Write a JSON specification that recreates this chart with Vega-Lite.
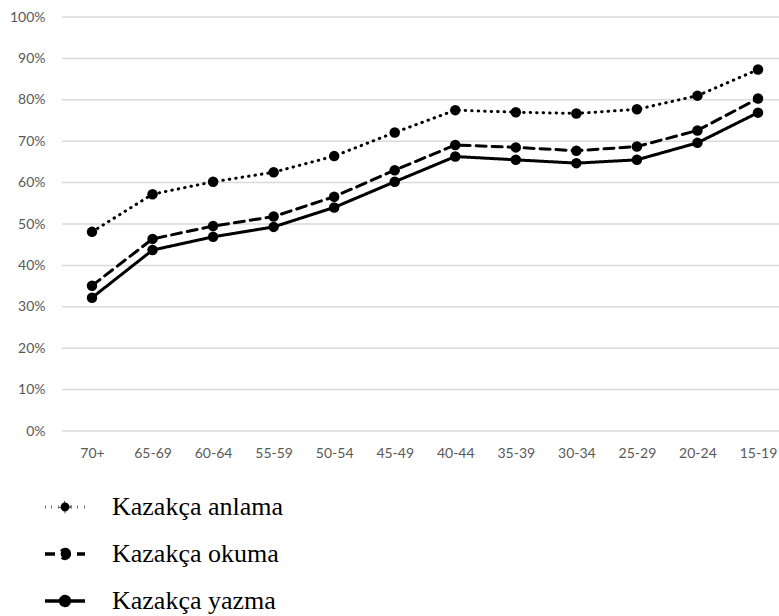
{
  "$schema": "https://vega.github.io/schema/vega-lite/v6.json",
  "width": 717,
  "height": 414,
  "autosize": {"type": "none"},
  "padding": {"left": 62, "top": 17, "right": 0, "bottom": 185},
  "background": "white",
  "config": {
    "view": {"stroke": null},
    "axis": {
      "labelFont": "Lato",
      "labelFontSize": 14,
      "labelColor": "#595959",
      "domain": false,
      "ticks": false,
      "tickSize": 0,
      "grid": false,
      "title": null
    }
  },
  "datasets": {
    "shares": [
      {"age": "70+", "series": "Kazakça anlama", "pct": 48.1},
      {"age": "65-69", "series": "Kazakça anlama", "pct": 57.2},
      {"age": "60-64", "series": "Kazakça anlama", "pct": 60.2},
      {"age": "55-59", "series": "Kazakça anlama", "pct": 62.5},
      {"age": "50-54", "series": "Kazakça anlama", "pct": 66.4},
      {"age": "45-49", "series": "Kazakça anlama", "pct": 72.1},
      {"age": "40-44", "series": "Kazakça anlama", "pct": 77.5},
      {"age": "35-39", "series": "Kazakça anlama", "pct": 77.0},
      {"age": "30-34", "series": "Kazakça anlama", "pct": 76.7},
      {"age": "25-29", "series": "Kazakça anlama", "pct": 77.7},
      {"age": "20-24", "series": "Kazakça anlama", "pct": 81.0},
      {"age": "15-19", "series": "Kazakça anlama", "pct": 87.3},
      {"age": "70+", "series": "Kazakça okuma", "pct": 35.1},
      {"age": "65-69", "series": "Kazakça okuma", "pct": 46.4},
      {"age": "60-64", "series": "Kazakça okuma", "pct": 49.5},
      {"age": "55-59", "series": "Kazakça okuma", "pct": 51.8},
      {"age": "50-54", "series": "Kazakça okuma", "pct": 56.6},
      {"age": "45-49", "series": "Kazakça okuma", "pct": 63.0},
      {"age": "40-44", "series": "Kazakça okuma", "pct": 69.1},
      {"age": "35-39", "series": "Kazakça okuma", "pct": 68.5},
      {"age": "30-34", "series": "Kazakça okuma", "pct": 67.7},
      {"age": "25-29", "series": "Kazakça okuma", "pct": 68.7},
      {"age": "20-24", "series": "Kazakça okuma", "pct": 72.6},
      {"age": "15-19", "series": "Kazakça okuma", "pct": 80.3},
      {"age": "70+", "series": "Kazakça yazma", "pct": 32.2},
      {"age": "65-69", "series": "Kazakça yazma", "pct": 43.7},
      {"age": "60-64", "series": "Kazakça yazma", "pct": 46.9},
      {"age": "55-59", "series": "Kazakça yazma", "pct": 49.3},
      {"age": "50-54", "series": "Kazakça yazma", "pct": 54.0},
      {"age": "45-49", "series": "Kazakça yazma", "pct": 60.2},
      {"age": "40-44", "series": "Kazakça yazma", "pct": 66.3},
      {"age": "35-39", "series": "Kazakça yazma", "pct": 65.5},
      {"age": "30-34", "series": "Kazakça yazma", "pct": 64.7},
      {"age": "25-29", "series": "Kazakça yazma", "pct": 65.5},
      {"age": "20-24", "series": "Kazakça yazma", "pct": 69.6},
      {"age": "15-19", "series": "Kazakça yazma", "pct": 76.9}
    ],
    "gridlines": [
      {"pct": 0}, {"pct": 10}, {"pct": 20}, {"pct": 30}, {"pct": 40}, {"pct": 50},
      {"pct": 60}, {"pct": 70}, {"pct": 80}, {"pct": 90}, {"pct": 100}
    ]
  },
  "layer": [
    {
      "data": {"name": "gridlines"},
      "mark": {"type": "rule", "color": "#d9d9d9", "strokeWidth": 1.5},
      "encoding": {
        "y": {
          "field": "pct",
          "type": "quantitative",
          "scale": {"domain": [0, 100], "nice": false},
          "axis": {
            "values": [0, 10, 20, 30, 40, 50, 60, 70, 80, 90, 100],
            "labelExpr": "datum.value + '%'",
            "labelPadding": 17
          }
        }
      }
    },
    {
      "data": {"name": "shares"},
      "encoding": {
        "x": {
          "field": "age",
          "type": "ordinal",
          "sort": null,
          "scale": {"type": "point", "range": [30, 696], "padding": 0},
          "axis": {"labelAngle": 0, "labelPadding": 15}
        },
        "y": {"field": "pct", "type": "quantitative"}
      },
      "layer": [
        {
          "mark": {"type": "line", "color": "black", "strokeWidth": 3, "strokeCap": "round"},
          "encoding": {
            "strokeDash": {
              "field": "series",
              "type": "nominal",
              "scale": {
                "domain": ["Kazakça anlama", "Kazakça okuma", "Kazakça yazma"],
                "range": [[0.5, 6], [10, 6], [1, 0]]
              },
              "legend": {
                "title": null,
                "orient": "none",
                "legendX": -19,
                "legendY": 468,
                "direction": "vertical",
                "labelFont": "Liberation Serif",
                "labelFontSize": 26,
                "labelColor": "black",
                "labelLimit": 0,
                "labelOffset": 25,
                "rowPadding": 12,
                "symbolType": "M-1,0L1,0M0.22,0A0.22,0.22,0,1,1,-0.22,0A0.22,0.22,0,1,1,0.22,0Z",
                "symbolSize": 1600,
                "symbolStrokeWidth": 3.5,
                "symbolStrokeColor": "black",
                "encode": {
                  "symbols": {"update": {"fill": {"value": "black"}, "stroke": {"value": "black"}, "strokeCap": {"value": "butt"}}}
                }
              }
            }
          }
        },
        {
          "mark": {"type": "point", "filled": true, "color": "black", "size": 110, "opacity": 1},
          "encoding": {
            "detail": {"field": "series", "type": "nominal"}
          }
        }
      ]
    }
  ]
}
